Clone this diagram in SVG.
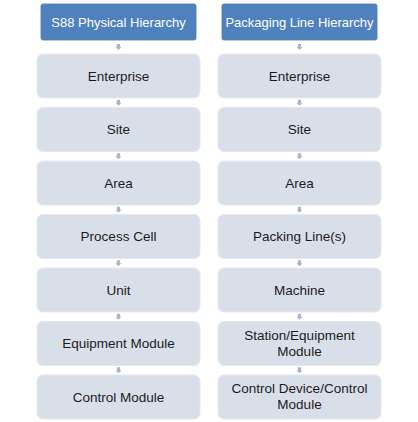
<svg xmlns="http://www.w3.org/2000/svg" width="418" height="422" viewBox="0 0 418 422">
<defs>
<style>
.hdr{fill:#4f81bd;stroke:#4a7ab5;stroke-width:0.8}
.box{fill:#d9dfe9;stroke:#e3e7ef;stroke-width:1}
.ht{font-family:"Liberation Sans",Arial,sans-serif;font-size:13px;fill:#ffffff;text-anchor:middle}
.bt{font-family:"Liberation Sans",Arial,sans-serif;font-size:13.5px;fill:#1b1b1b;text-anchor:middle}
.arr{fill:#aab3cf}
</style>
<polygon id="a" points="-1.6,-3 1.6,-3 1.6,0 3,0 0,3 -3,0 -1.6,0"/>
</defs>
<rect width="418" height="422" fill="#ffffff"/>
<g id="connectors" class="arr">
<use href="#a" x="118.5" y="47"/>
<use href="#a" x="118.5" y="102.75"/>
<use href="#a" x="118.5" y="156.25"/>
<use href="#a" x="118.5" y="209.75"/>
<use href="#a" x="118.5" y="263.25"/>
<use href="#a" x="118.5" y="316.75"/>
<use href="#a" x="118.5" y="370.25"/>
<use href="#a" x="299.5" y="47"/>
<use href="#a" x="299.5" y="102.75"/>
<use href="#a" x="299.5" y="156.25"/>
<use href="#a" x="299.5" y="209.75"/>
<use href="#a" x="299.5" y="263.25"/>
<use href="#a" x="299.5" y="316.75"/>
<use href="#a" x="299.5" y="370.25"/>
</g>
<g id="hdr-s88"><rect class="hdr" x="41" y="4" width="155" height="36" rx="2"/><text class="ht" x="118.5" y="26.5">S88 Physical Hierarchy</text></g>
<g id="hdr-pack"><rect class="hdr" x="222" y="4" width="155" height="36" rx="2"/><text class="ht" x="299.5" y="26.5">Packaging Line  Hierarchy</text></g>
<g id="l-enterprise"><rect class="box" x="37" y="54" width="163" height="44" rx="6"/><text class="bt" x="118.5" y="80.7">Enterprise</text></g>
<g id="l-site"><rect class="box" x="37" y="107.5" width="163" height="44" rx="6"/><text class="bt" x="118.5" y="134.2">Site</text></g>
<g id="l-area"><rect class="box" x="37" y="161" width="163" height="44" rx="6"/><text class="bt" x="118.5" y="187.7">Area</text></g>
<g id="l-cell"><rect class="box" x="37" y="214.5" width="163" height="44" rx="6"/><text class="bt" x="118.5" y="241.2">Process Cell</text></g>
<g id="l-unit"><rect class="box" x="37" y="268" width="163" height="44" rx="6"/><text class="bt" x="118.5" y="294.7">Unit</text></g>
<g id="l-equip"><rect class="box" x="37" y="321.5" width="163" height="44" rx="6"/><text class="bt" x="118.5" y="348.2">Equipment Module</text></g>
<g id="l-control"><rect class="box" x="37" y="375" width="163" height="44" rx="6"/><text class="bt" x="118.5" y="401.7">Control Module</text></g>
<g id="r-enterprise"><rect class="box" x="218" y="54" width="163" height="44" rx="6"/><text class="bt" x="299.5" y="80.7">Enterprise</text></g>
<g id="r-site"><rect class="box" x="218" y="107.5" width="163" height="44" rx="6"/><text class="bt" x="299.5" y="134.2">Site</text></g>
<g id="r-area"><rect class="box" x="218" y="161" width="163" height="44" rx="6"/><text class="bt" x="299.5" y="187.7">Area</text></g>
<g id="r-line"><rect class="box" x="218" y="214.5" width="163" height="44" rx="6"/><text class="bt" x="299.5" y="241.2">Packing Line(s)</text></g>
<g id="r-machine"><rect class="box" x="218" y="268" width="163" height="44" rx="6"/><text class="bt" x="299.5" y="294.7">Machine</text></g>
<g id="r-station"><rect class="box" x="218" y="321.5" width="163" height="44" rx="6"/><text class="bt" x="299.5" y="339.8">Station/Equipment</text><text class="bt" x="299.5" y="355.6">Module</text></g>
<g id="r-device"><rect class="box" x="218" y="375" width="163" height="44" rx="6"/><text class="bt" x="299.5" y="393.3">Control Device/Control</text><text class="bt" x="299.5" y="409.1">Module</text></g>
</svg>
